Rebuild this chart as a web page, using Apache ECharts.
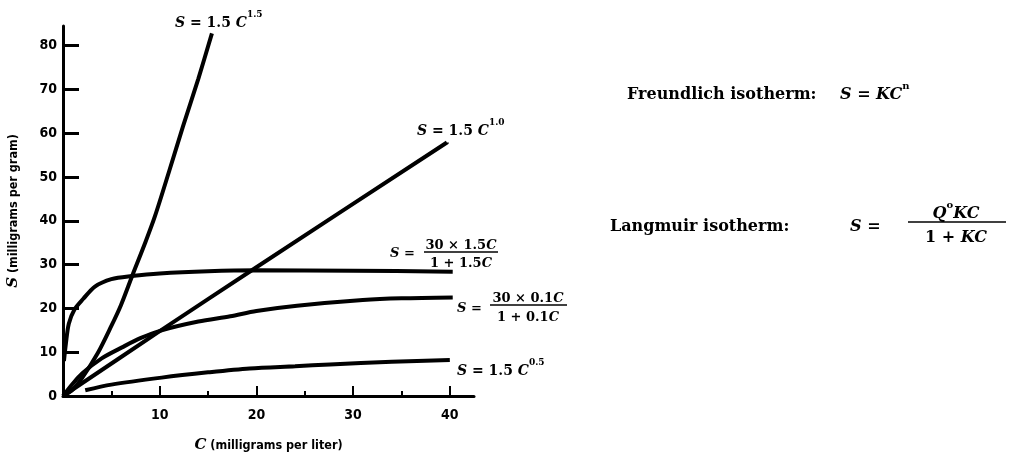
<!DOCTYPE html>
<html><head><meta charset="utf-8">
<script src="https://cdn.jsdelivr.net/npm/echarts@6/dist/echarts.min.js"></script>
<style>html,body{margin:0;padding:0;background:#fff}#c{width:1013px;height:458px}</style>
</head><body><div id="c"></div>
<script>
// S = 1.5 C^1.5
const cA = [0, 1, 2, 3.6, 5, 6, 7.2, 8.5, 9.5, 11, 12.4, 14, 15.4];
const sA = [0, 1.5, 4.2, 9.8, 16, 20.8, 27.7, 35, 41, 51.5, 61.5, 72.5, 82.8];
// S = 1.5 C^1.0
const cB = [0, 10, 20, 39.7];
const sB = [0, 14.8, 29.4, 57.9];
// S = 30 x 1.5C / (1 + 1.5C)
const cC = [0.1, 0.3, 0.6, 1.2, 2.1, 3.3, 5, 7.1, 10, 15, 20, 30, 40.3];
const sC = [8, 12, 16.5, 19.8, 22.2, 25, 26.7, 27.4, 28, 28.5, 28.7, 28.6, 28.4];
// S = 30 x 0.1C / (1 + 0.1C)
const cD = [0, 1, 2, 4, 6.1, 8, 10.2, 14, 17.3, 20, 24.2, 31, 35, 40.3];
const sD = [0, 2.8, 5.2, 8.6, 11.1, 13.2, 15, 17, 18.2, 19.4, 20.6, 21.9, 22.3, 22.5];
// S = 1.5 C^0.5
const cE = [2.3, 5, 10.2, 15, 19.3, 24, 27.6, 34, 40];
const sE = [1.3, 2.6, 4.2, 5.4, 6.3, 6.8, 7.2, 7.8, 8.2];

const xTicks = [10, 20, 30, 40];
const xMinorTicks = [5, 15, 25, 35];
const yTicks = [0, 10, 20, 30, 40, 50, 60, 70, 80];

const zip = (a, b) => a.map((v, i) => [v, b[i]]);
const SERIF = '"DejaVu Serif", "Liberation Serif", serif';
const SANS = '"DejaVu Sans Condensed", "Liberation Sans", "DejaVu Sans", sans-serif';

function richSet(size) {
  return {
    i: {fontFamily: SERIF, fontStyle: 'italic', fontWeight: 'bold', fontSize: size, lineHeight: size + 6, verticalAlign: 'bottom', fill: '#000'},
    n: {fontFamily: SERIF, fontWeight: 'bold', fontSize: size, lineHeight: size + 6, verticalAlign: 'bottom', fill: '#000'},
    sup: {fontFamily: SERIF, fontWeight: 'bold', fontSize: Math.round(size * 0.62), lineHeight: 10, verticalAlign: 'top', fill: '#000'}
  };
}
const richSmall = richSet(13);
const richLabel = richSet(14);
const richBig = richSet(16);
function txt(x, y, text, rich, align) {
  return {type: 'text', x: x, y: y, silent: true,
    style: {text: text, rich: rich, textAlign: align || 'left', textVerticalAlign: 'middle', fill: '#000'}};
}
function fraction(cx, numY, barY, denY, x1, x2, num, den, rich) {
  return [
    txt(cx, numY, num, rich, 'center'),
    {type: 'line', silent: true, shape: {x1: x1, y1: barY, x2: x2, y2: barY}, style: {stroke: '#000', lineWidth: 1.5}},
    txt(cx, denY, den, rich, 'center')
  ];
}

const graphics = [].concat(
  [txt(175, 20, '{i|S}{n| = 1.5 }{i|C}{sup|1.5}', richLabel)],
  [txt(417, 128, '{i|S}{n| = 1.5 }{i|C}{sup|1.0}', richLabel)],
  [txt(390, 251, '{i|S}{n| = }', richSmall)],
  fraction(461, 243, 252, 261, 424, 498, '{n|30 × 1.5}{i|C}', '{n|1 + 1.5}{i|C}', richSmall),
  [txt(457, 306, '{i|S}{n| = }', richSmall)],
  fraction(528, 296, 305, 315, 490, 567, '{n|30 × 0.1}{i|C}', '{n|1 + 0.1}{i|C}', richSmall),
  [txt(457, 368, '{i|S}{n| = 1.5 }{i|C}{sup|0.5}', richLabel)],
  [txt(627, 92, '{n|Freundlich isotherm:}', richBig), txt(840, 92, '{i|S}{n| = }{i|KC}{sup|n}', richBig)],
  [txt(610, 224, '{n|Langmuir isotherm:}', richBig), txt(850, 224, '{i|S}{n| = }', richBig)],
  fraction(956, 211, 222, 235, 908, 1006, '{i|Q}{sup|o}{i|KC}', '{n|1 + }{i|KC}', richBig)
);

const chart = echarts.init(document.getElementById('c'), null, {renderer: 'canvas'});
const lineSeries = (c, s) => ({type: 'line', data: zip(c, s), smooth: 0.3,
  showSymbol: false, silent: true, lineStyle: {color: '#000', width: 4}, z: 3});

chart.setOption({
  backgroundColor: '#fff',
  animation: false,
  grid: {left: 63, top: 26, width: 411, height: 378},
  xAxis: [{
    type: 'value', min: 0, max: 42.5,
    name: '{i|C}{n| (milligrams per liter)}', nameLocation: 'middle', nameGap: 42,
    nameTextStyle: {rich: {
      i: {fontFamily: SERIF, fontStyle: 'italic', fontWeight: 'bold', fontSize: 15, color: '#000'},
      n: {fontFamily: SANS, fontWeight: 'bold', fontSize: 12.5, color: '#000'}}},
    axisLine: {show: true, lineStyle: {color: '#000', width: 3}},
    axisTick: {show: true, inside: true, length: 10, lineStyle: {color: '#000', width: 2}, customValues: xTicks},
    axisLabel: {show: true, customValues: xTicks, margin: 12, color: '#000', fontFamily: SANS, fontWeight: 'bold', fontSize: 14},
    splitLine: {show: false}
  }, {
    type: 'value', min: 0, max: 42.5, position: 'bottom',
    axisLine: {show: false}, axisLabel: {show: false}, splitLine: {show: false},
    axisTick: {show: true, inside: true, length: 5, lineStyle: {color: '#000', width: 2}, customValues: xMinorTicks}
  }],
  yAxis: {
    type: 'value', min: 0, max: 84.5,
    name: '{i|S}{n| (milligrams per gram)}', nameLocation: 'middle', nameGap: 42, nameRotate: 90,
    nameTextStyle: {rich: {
      i: {fontFamily: SERIF, fontStyle: 'italic', fontWeight: 'bold', fontSize: 15, color: '#000'},
      n: {fontFamily: SANS, fontWeight: 'bold', fontSize: 12.5, color: '#000'}}},
    axisLine: {show: true, lineStyle: {color: '#000', width: 3}},
    axisTick: {show: true, inside: true, length: 16, lineStyle: {color: '#000', width: 3}, customValues: yTicks},
    axisLabel: {show: true, customValues: yTicks, margin: 6, color: '#000', fontFamily: SANS, fontWeight: 'bold', fontSize: 14},
    splitLine: {show: false}
  },
  series: [lineSeries(cA, sA), lineSeries(cB, sB), lineSeries(cC, sC), lineSeries(cD, sD), lineSeries(cE, sE)],
  graphic: graphics
});
</script></body></html>
